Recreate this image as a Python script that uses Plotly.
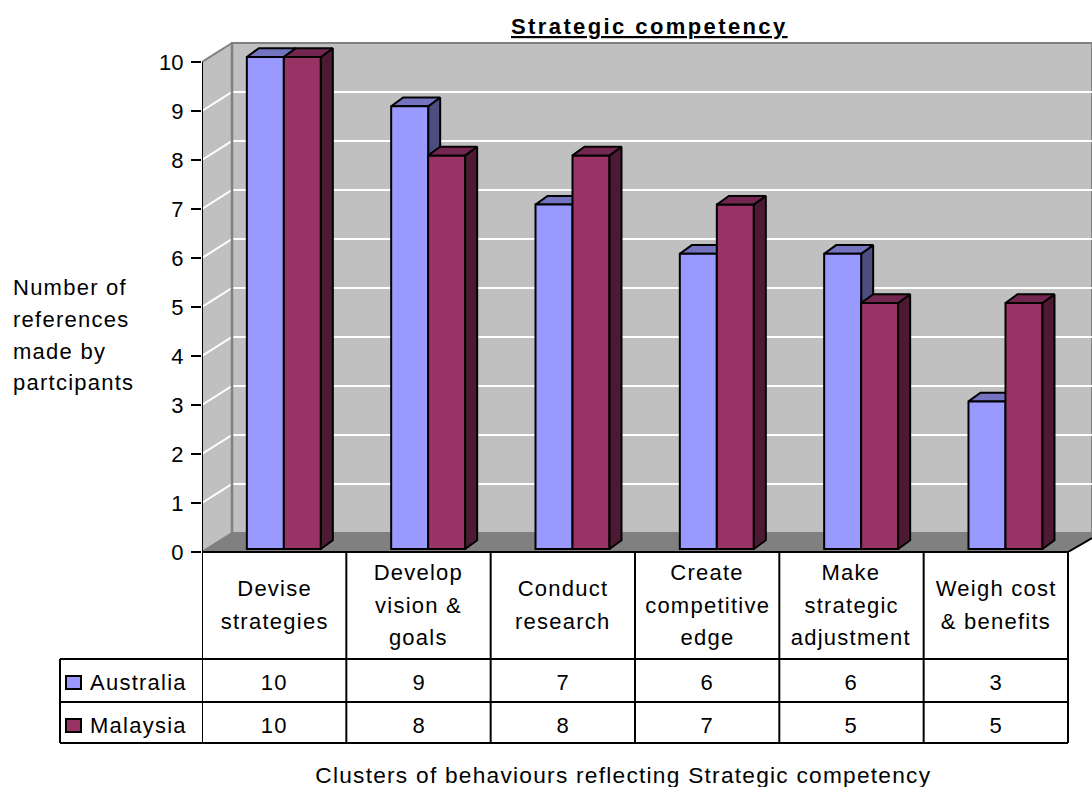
import plotly.graph_objects as go

categories = ["Devise<br>strategies", "Develop<br>vision &<br>goals", "Conduct<br>research",
              "Create<br>competitive<br>edge", "Make<br>strategic<br>adjustment", "Weigh cost<br>& benefits"]
australia = [10, 9, 7, 6, 6, 3]
malaysia = [10, 8, 8, 7, 5, 5]
y_ticks = list(range(0, 11))
title = "Strategic competency"
x_title = "Clusters of behaviours reflecting Strategic competency"
y_title = ["Number of", "references", "made by", "partcipants"]

W, H = 1092, 787
X0, Y0, YTOP = 202.0, 552.0, 40.0
CAT = 144.33
UNIT = 49.0
BAR_UNIT = 49.2
BAR_LIFT = 3.0
FONT = "Liberation Sans"
FS = 22
BLACK = "#000000"
LW = 2


def px(v):
    return v / CAT


def py(v):
    return v / UNIT


def paper_y(y):
    return 1 - y / H


XMAX = (W - X0) / CAT
YMAX = (Y0 - YTOP) / UNIT
WX, WY = px(30), py(19)
BDX, BDY = px(12), 8.7 / BAR_UNIT
BW = px(37)
CENTER = 0.567

fig = go.Figure()


def poly(xs, ys, fill, line, width, yaxis="y"):
    fig.add_trace(go.Scatter(x=xs, y=ys, mode="lines", fill="toself", fillcolor=fill,
                             line=dict(color=line, width=width), hoverinfo="skip",
                             showlegend=False, yaxis=yaxis, cliponaxis=False))


# walls and floor
poly([0, WX, WX, 0, 0], [0, WY, 10 + WY, 10, 0], "#C0C0C0", "#808080", 2)
poly([WX, XMAX, XMAX, WX, WX], [WY, WY, 10 + WY, 10 + WY, WY], "#C0C0C0", "#808080", 2)
poly([0, WX, XMAX, XMAX, 6, 0], [0, WY, WY, py(14), 0, 0], "#808080", "#808080", 0.5)

# gridlines
gx, gy = [], []
for t in y_ticks[1:-1]:
    gx += [0, WX, XMAX, None]
    gy += [t, t + WY, t + WY, None]
fig.add_trace(go.Scatter(x=gx, y=gy, mode="lines", line=dict(color="#FFFFFF", width=2),
                         hoverinfo="skip", showlegend=False))
# edges repainted over the grid
fig.add_trace(go.Scatter(x=[WX, WX], y=[WY, 10 + WY], mode="lines",
                         line=dict(color="#808080", width=2.5), hoverinfo="skip", showlegend=False))
fig.add_trace(go.Scatter(x=[0, 0], y=[0, 10], mode="lines", cliponaxis=False,
                         line=dict(color=BLACK, width=LW), hoverinfo="skip", showlegend=False))
fig.add_trace(go.Scatter(x=[6, XMAX], y=[0, py(14)], mode="lines", cliponaxis=False,
                         line=dict(color=BLACK, width=LW), hoverinfo="skip", showlegend=False))


def solids(values, start, top, side, axis):
    tx, ty, sx, sy = [], [], [], []
    for i, v in enumerate(values):
        L = i + CENTER + start
        R = L + BW
        tx += [L, L + BDX, R + BDX, R, L, None]
        ty += [v, v + BDY, v + BDY, v, v, None]
        sx += [R, R + BDX, R + BDX, R, R, None]
        sy += [v, v + BDY, BDY, 0, v, None]
    poly(sx, sy, side, BLACK, LW, axis)
    poly(tx, ty, top, BLACK, LW, axis)


solids(australia, -BW, "#7373BF", "#4D4D80", "y2")
centers = [i + CENTER for i in range(len(categories))]
fig.add_trace(go.Bar(x=centers, y=australia, width=BW, offset=-BW, yaxis="y3", name="Australia",
                     marker=dict(color="#9999FF", line=dict(color=BLACK, width=LW)), showlegend=False))
fig.add_trace(go.Bar(x=centers, y=malaysia, width=BW, offset=0, yaxis="y3", name="Malaysia",
                     marker=dict(color="#993366", line=dict(color=BLACK, width=LW)), showlegend=False))
solids(malaysia, 0, "#732650", "#4D1A33", "y4")

dom_y = [1 - Y0 / H, 1 - YTOP / H]
bar_range = [-BAR_LIFT / BAR_UNIT, (Y0 - BAR_LIFT - YTOP) / BAR_UNIT]
hidden = dict(domain=dom_y, range=bar_range, overlaying="y", visible=False, anchor="x")

# data table
shapes, notes = [], []


def line(x0, y0, x1, y1, xref="x", w=LW, col=BLACK):
    shapes.append(dict(type="line", xref=xref, yref="paper", x0=x0, x1=x1,
                       y0=paper_y(y0), y1=paper_y(y1), line=dict(color=col, width=w), layer="above"))


def text(x, y, s, xref="x", anchor="center", size=FS):
    notes.append(dict(x=x, y=paper_y(y), xref=xref, yref="paper", text=s, showarrow=False,
                      xanchor=anchor, align=anchor, yanchor="middle",
                      font=dict(family=FONT, size=size, color=BLACK)))


for k in range(0, 7):
    line(k, Y0, k, 743)
line(60 / W, 659, 60 / W, 743, "paper")
line(0, Y0, 6, Y0)
for y in (659, 702, 743):
    line(60 / W, y, 1068 / W, y, "paper")

row_y = [682, 725]
for i, c in enumerate(categories):
    parts = c.split("<br>")
    for j, p in enumerate(parts):
        text(i + 0.5, 605 + (j - (len(parts) - 1) / 2) * 32.5, p)
    text(i + 0.5, row_y[0], str(australia[i]))
    text(i + 0.5, row_y[1], str(malaysia[i]))

for (name, col), y in zip([("Australia", "#9999FF"), ("Malaysia", "#993366")], row_y):
    shapes.append(dict(type="rect", xref="paper", yref="paper", x0=66 / W, x1=81 / W,
                       y0=paper_y(y + 7), y1=paper_y(y - 6), fillcolor=col,
                       line=dict(color=BLACK, width=LW), layer="above"))
    text(88 / W, y, name, "paper", "left")

text(649 / W, 26, f"<b><u>{title}</u></b>", "paper")
text(623 / W, 775, x_title, "paper", size=22.7)
for y, s in zip((287, 319, 351, 383), y_title):
    text(11 / W, y, s, "paper", "left")

fig.update_layout(
    width=W, height=H, margin=dict(l=0, r=0, t=0, b=0, autoexpand=False),
    paper_bgcolor="#FFFFFF", plot_bgcolor="#FFFFFF",
    barmode="overlay", shapes=shapes, annotations=notes,
    xaxis=dict(domain=[X0 / W, 1], range=[0, XMAX], visible=False, fixedrange=True),
    yaxis=dict(domain=dom_y, range=[0, YMAX], tickvals=y_ticks, ticks="outside", ticklen=10, tickwidth=LW,
               tickcolor=BLACK, showgrid=False, zeroline=False, showline=False, ticklabelstandoff=3,
               tickfont=dict(family=FONT, size=FS, color=BLACK)),
    yaxis2=hidden, yaxis3=hidden, yaxis4=hidden,
)

css = (".annotation-text{letter-spacing:1.25px}"
       ".annotation-text tspan[style*='bold']{letter-spacing:2.4px}")
fig.write_html("out.html", config=dict(displayModeBar=False),
               post_script="document.body.style.margin='0';document.body.style.overflow='hidden';"
                           "var s=document.createElement('style');s.textContent=\"" + css + "\";"
                           "document.head.appendChild(s);")
